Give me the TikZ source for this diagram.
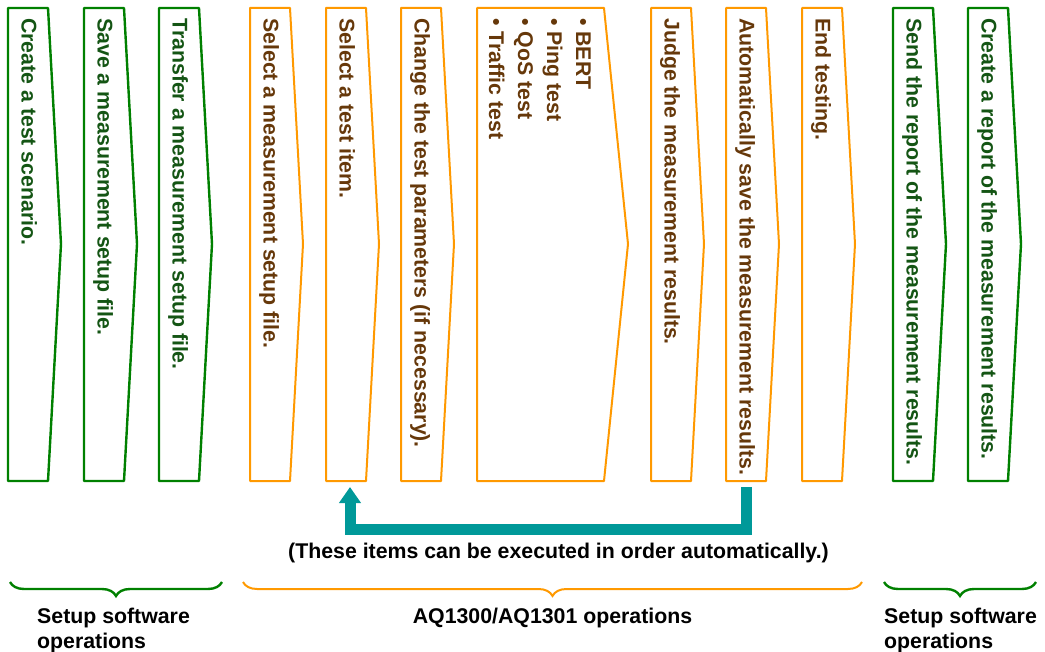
\documentclass[tikz,border=0pt]{standalone}
\usepackage{fontspec}
\setmainfont{Liberation Sans}
\usepackage{xcolor}
\usepackage{tikz}
\usetikzlibrary{positioning, arrows.meta, decorations.pathreplacing}

\definecolor{stepgreen}{RGB}{0,128,0}
\definecolor{stepgreentext}{RGB}{20,85,20}
\definecolor{steporange}{RGB}{255,153,0}
\definecolor{stepbrown}{RGB}{102,56,10}
\definecolor{autoteal}{RGB}{0,153,153}
\newcommand\stepfont{\fontsize{21.3}{29}\selectfont\bfseries}

\begin{document}
\begin{tikzpicture}[x=1pt,y=-1pt,
                    every node/.style={font=\stepfont, inner sep=0pt},
                    greenbox/.style={draw=stepgreen, line width=2.4pt, line join=round},
                    orangebox/.style={draw=steporange, line width=2pt, line join=round},
                    greentext/.style={text=stepgreentext, rotate=-90, anchor=base west},
                    browntext/.style={text=stepbrown, rotate=-90, anchor=base west},
                    autoarrow/.style={draw=autoteal, line width=11pt, -{Triangle[width=21pt,length=16pt]}},
                    greenbrace/.style={draw=stepgreen, line width=2.4pt, decorate, decoration={brace, mirror, amplitude=14pt}},
                    orangebrace/.style={draw=steporange, line width=2pt, decorate, decoration={brace, mirror, amplitude=14pt}}]
\useasboundingbox (0,0) rectangle (1045,652); %size of the reference

%Shape: Step box [setup software, before]
\draw [greenbox] (8,8) -- (48,8) -- (61,244) -- (48,481) -- (8,481) -- cycle ;
\draw [greenbox] (84,8) -- (124,8) -- (137,244) -- (124,481) -- (84,481) -- cycle ;
\draw [greenbox] (159,8) -- (199,8) -- (212,244) -- (199,481) -- (159,481) -- cycle ;
%Shape: Step box [AQ1300/AQ1301]
\draw [orangebox] (250,8) -- (290,8) -- (303,244) -- (290,481) -- (250,481) -- cycle ;
\draw [orangebox] (326,8) -- (366,8) -- (379,244) -- (366,481) -- (326,481) -- cycle ;
\draw [orangebox] (401,8) -- (441,8) -- (454,244) -- (441,481) -- (401,481) -- cycle ;
\draw [orangebox] (477,8) -- (604,8) -- (628,244) -- (604,481) -- (477,481) -- cycle ;
\draw [orangebox] (651,8) -- (691,8) -- (704,244) -- (691,481) -- (651,481) -- cycle ;
\draw [orangebox] (726,8) -- (766,8) -- (779,244) -- (766,481) -- (726,481) -- cycle ;
\draw [orangebox] (802,8) -- (842,8) -- (855,244) -- (842,481) -- (802,481) -- cycle ;
%Shape: Step box [setup software, after]
\draw [greenbox] (893,8) -- (933,8) -- (946,244) -- (933,481) -- (893,481) -- cycle ;
\draw [greenbox] (968,8) -- (1008,8) -- (1021,244) -- (1008,481) -- (968,481) -- cycle ;

% Text Node
\draw (21.5,18) node [greentext] (scenario) {Create a test scenario.};
% Text Node
\draw (97.5,18) node [greentext] (savefile) {Save a measurement setup file.};
% Text Node
\draw (172.5,18) node [greentext] (transfer) {Transfer a measurement setup file.};
% Text Node
\draw (263.5,18) node [browntext] (selfile) {Select a measurement setup file.};
% Text Node
\draw (339.5,18) node [browntext] (selitem) {Select a test item.};
% Text Node
\draw (414.5,18) node [browntext] (params) {Change the test parameters (if necessary).};
% Text Node
\draw (576,18) node [browntext] (bert) {• BERT};
\draw (547,18) node [browntext] (ping) {• Ping test};
\draw (518,18) node [browntext] (qos) {• QoS test};
\draw (489,18) node [browntext] (traffic) {• Traffic test};
% Text Node
\draw (664.5,18) node [browntext] (judge) {Judge the measurement results.};
% Text Node
\draw (739.5,18) node [browntext] (autosave) {Automatically save the measurement results.};
% Text Node
\draw (815.5,18) node [browntext] (endtest) {End testing.};
% Text Node
\draw (906.5,18) node [greentext] (sendrep) {Send the report of the measurement results.};
% Text Node
\draw (981.5,18) node [greentext] (makerep) {Create a report of the measurement results.};

%Straight Lines [automatic loop]
\coordinate (autosave-end) at (746.5,487);
\coordinate (selitem-end) at (350,487);
\draw [autoarrow] (autosave-end) -- ++(0,42.5) -| (selitem-end) ;

% Text Node
\draw (558.5,558) node [anchor=base] (loopnote) {(These items can be executed in order automatically.)};

%Shape: Brace
\draw [greenbrace] (10,582) -- (222,582) ;
\draw [orangebrace] (243,582) -- (862,582) ;
\draw [greenbrace] (884,582) -- (1036,582) ;

% Text Node
\draw (37,623) node [anchor=base west] (setupA) {Setup software};
\draw (37,648) node [anchor=base west] (setupA2) {operations};
% Text Node
\draw (552.5,623) node [anchor=base] (aqops) {AQ1300/AQ1301 operations};
% Text Node
\draw (884,623) node [anchor=base west] (setupB) {Setup software};
\draw (884,648) node [anchor=base west] (setupB2) {operations};

\end{tikzpicture}
\end{document}
